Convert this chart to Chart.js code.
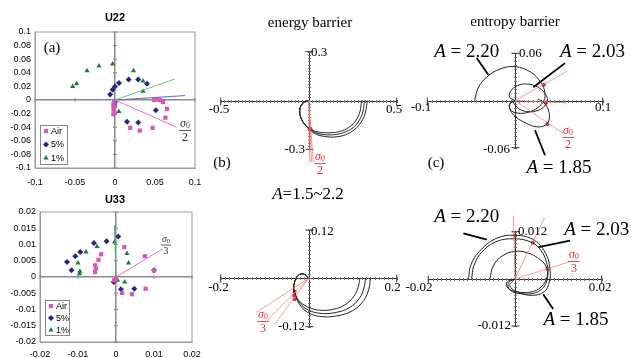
<!DOCTYPE html>
<html>
<head>
<meta charset="utf-8">
<script src="https://cdn.jsdelivr.net/npm/chart.js@4.4.0/dist/chart.umd.min.js"></script>
<style>
html, body { margin: 0; padding: 0; background: #fff; }
#fig { position: relative; width: 633px; height: 358px; overflow: hidden; background: #fff; }
#fig canvas { position: absolute; left: 0; top: 0; }
</style>
</head>
<body>
<div id="fig">
  <canvas id="u22" width="633" height="358"></canvas>
  <canvas id="u33" width="633" height="358"></canvas>
  <canvas id="enTop" width="633" height="358"></canvas>
  <canvas id="enBot" width="633" height="358"></canvas>
  <canvas id="exTop" width="633" height="358"></canvas>
  <canvas id="exBot" width="633" height="358"></canvas>
</div>
<script>
// ---- data ----
// (a) U22
var u22Air = [[-0.001,-0.002],[-0.002,-0.006],[-0.001,-0.010],[-0.002,-0.014],[0,-0.019],[-0.002,-0.021],
  [0.019,-0.041],[0.031,-0.045],[0.047,-0.041],[0.049,0],[0.053,0.001],[0.056,0],[0.060,-0.003],[0.065,-0.013],[0.063,-0.026]];
var u22Five = [[-0.006,0.008],[-0.003,0.015],[0,0.020],[0.005,0.025],[0.017,0.030],[0.029,0.030],[0.040,0.024],
  [0,-0.003],[-0.001,-0.010],[0.015,-0.032],[0.029,-0.033],[0.051,-0.015]];
var u22One = [[-0.053,0.020],[-0.048,0.024],[-0.035,0.043],[-0.020,0.050],[-0.003,0.053],[0.023,0.043],
  [0.035,0.028],[0.035,0.013],[0.005,-0.017],[0,-0.006]];
var u22AirLine = [[0,0],[0.077,-0.040]];
var u22FiveLine = [[0,0],[0.0875,0.0065]];
var u22OneLine = [[0,0],[0.075,0.031]];

// (a) U33
var u33Air = [[-0.0039,0.0070],[-0.0046,0.0053],[-0.0055,0.0036],[-0.0053,0.0026],[-0.0055,0.0015],[0.0022,0.0092],
  [0.0076,0.0064],[0.0100,0.0020],[0.0078,-0.0036],[0.0042,-0.0053],[0.0016,-0.0049],[0,-0.0005],[-0.0005,-0.0010]];
var u33Five = [[-0.0129,0.0046],[-0.0117,0.0021],[-0.0107,0.0064],[-0.0094,0.0077],[-0.0058,0.0105],[-0.0025,0.0110],
  [0.0006,0.0125],[0.0100,0.0021],[0.0013,-0.0038],[0.0048,-0.0036],[-0.0006,-0.0015]];
var u33One = [[-0.0096,0.0010],[-0.0095,0.0018],[-0.0100,0.0043],[-0.0079,0.0077],[-0.0050,0.0094],[-0.0004,0.0108],
  [0.0029,0.0072],[0.0033,0.0043],[0.0023,-0.0015],[0.0004,-0.0010],[0,-0.0003]];
var u33AirLine = [[0,0],[0.0123,0.0087]];
var u33OneLine = [[0,0],[-0.0004,0.0159]];

// (b) energy barrier, sigma0/2
var enTopLoop = [[0,0],[-0.025,-0.010],[-0.045,-0.035],[-0.051,-0.070],[-0.043,-0.110],[-0.022,-0.148]];
var enTopInner = [[0.005,-0.172],[0.040,-0.190],[0.090,-0.198],[0.140,-0.197],[0.190,-0.186],[0.235,-0.160],[0.270,-0.120],[0.292,-0.065],[0.300,0]];
var enTopMid = [[0.006,-0.176],[0.040,-0.198],[0.090,-0.210],[0.145,-0.210],[0.200,-0.197],[0.248,-0.170],[0.285,-0.126],[0.308,-0.068],[0.317,0]];
var enTopOuter = [[0.007,-0.180],[0.040,-0.206],[0.090,-0.221],[0.150,-0.224],[0.208,-0.211],[0.258,-0.180],[0.298,-0.133],[0.323,-0.070],[0.333,0]];
var enTopRays = [[0.006,-0.38],[0.016,-0.38],[0.026,-0.38]];
var enTopDots = [[0.008,-0.176]];

// (b) A = 1.5~2.2, sigma0/3
var enBotLoop = [[0,0],[-0.008,0.009],[-0.017,0.011],[-0.026,0.005],[-0.032,-0.009],[-0.034,-0.026],[-0.030,-0.042]];
var enBotInner = [[-0.020,-0.058],[0,-0.072],[0.025,-0.079],[0.055,-0.077],[0.082,-0.066],[0.103,-0.044],[0.113,-0.020],[0.116,0]];
var enBotMid = [[-0.020,-0.062],[0,-0.079],[0.028,-0.087],[0.060,-0.085],[0.092,-0.073],[0.115,-0.050],[0.126,-0.022],[0.129,0]];
var enBotOuter = [[-0.020,-0.066],[0,-0.086],[0.030,-0.095],[0.065,-0.093],[0.100,-0.080],[0.125,-0.055],[0.137,-0.025],[0.140,0]];
var enBotRays = [[-0.120,-0.085],[-0.095,-0.105],[-0.078,-0.115]];
var enBotDots = [[-0.032,-0.033],[-0.033,-0.043],[-0.032,-0.052]];

// (c) entropy barrier, sigma0/2
var exTop220 = [[0,0],[-0.006,-0.005],[-0.005,-0.012],[0.003,-0.016],[0.015,-0.015],[0.026,-0.009],[0.033,0],[0.034,0.010],
  [0.030,0.022],[0.018,0.036],[0,0.043],[-0.017,0.040],[-0.032,0.030],[-0.042,0.016],[-0.046,0]];
var exTop203 = [[0,0],[-0.006,0.004],[-0.005,0.012],[0.003,0.019],[0.014,0.021],[0.026,0.017],[0.034,0.009],[0.037,0],
  [0.032,-0.009],[0.021,-0.014],[0.009,-0.013],[0.001,-0.007],[-0.003,0]];
var exTop185 = [[0,0],[-0.006,-0.004],[-0.005,-0.013],[0.001,-0.021],[0.013,-0.029],[0.025,-0.0335],[0.035,-0.031],
  [0.039,-0.024],[0.038,-0.012],[0.033,-0.003],[0.026,0.002]];
var exTopRays = [[0.059,0.037],[0.059,-0.003],[0.055,-0.042]];
var exTopDots = [[0.033,0.020],[0.035,-0.003],[0.037,-0.030]];
var exTopLead220 = [[-0.0437,0.0539],[-0.0304,0.0326]];
var exTopLead203 = [[0.057,0.0475],[0.0209,0.0169]];
var exTopLead185 = [[0.0228,-0.0377],[0.0342,-0.0696]];

// (c) sigma0/3
var exBot220 = [[0,0],[-0.0012,-0.0017],[0.0005,-0.0033],[0.0040,-0.0042],[0.0068,-0.0032],[0.0079,-0.0008],[0.0081,0.0022],
  [0.0072,0.0062],[0.0045,0.0098],[0,0.0111],[-0.0045,0.0102],[-0.0082,0.0070],[-0.0102,0.0035],[-0.0107,0]];
var exBot203 = [[0,0],[-0.0015,-0.0010],[-0.0012,-0.0028],[0.0015,-0.0038],[0.0048,-0.0035],[0.0068,-0.0018],[0.0076,0.0012],
  [0.0072,0.0045],[0.0060,0.0072],[0.0040,0.0092],[0,0.0102],[-0.0045,0.0094],[-0.0078,0.0066],[-0.0095,0.0033],[-0.0100,0]];
var exBot185 = [[0,0],[-0.0018,-0.0008],[-0.0016,-0.0024],[0.0010,-0.0034],[0.0042,-0.0032],[0.0065,-0.0015],[0.0075,0.0012],
  [0.0070,0.0035],[0.0054,0.0052],[0.0030,0.0066],[0,0.0070],[-0.0030,0.0058],[-0.0050,0.0033],[-0.0058,0]];
var exBotRays = [[-0.0004,0.016],[0.0068,0.0155],[0.0125,0.0043]];
var exBotDots = [[0,0.0110],[0.0041,0.0092],[0.0075,0.0026]];
var exBotLead220 = [[-0.0119,0.0116],[-0.0065,0.0100]];
var exBotLead203 = [[0.0127,0.0097],[0.0054,0.0081]];
var exBotLead185 = [[0.0065,-0.0039],[0.0088,-0.0077]];

// ---- styles ----
var SANS = '"Liberation Sans", Arial, sans-serif';
var SERIF = '"Liberation Serif", "Times New Roman", serif';
var PINK = '#d658b8', NAVY = '#262684', GREEN = '#1f7a3d', RED = '#e8262a', RAY = 'rgba(240,120,120,0.75)';

function pts(a) { return a.map(function(p) { return {x: p[0], y: p[1]}; }); }
function marks(a, label, style, color, r) {
  return {label: label, data: pts(a), pointStyle: style, pointRadius: r, backgroundColor: color,
    borderColor: color, borderWidth: 0, showLine: false, clip: false};
}
function line(a, color, w, tension) {
  return {data: pts(a), showLine: true, borderColor: color, borderWidth: w || 1, pointRadius: 0,
    tension: tension || 0, fill: false, clip: false};
}
function rays(ends, color) {
  return ends.map(function(e) { return line([[0,0], e], color, 1); });
}
function fan(start, tails) {
  return tails.map(function(t) { return line(start.concat(t), '#222', 1, 0.4); });
}

// ---- drawing helpers for text ----
function fontOf(n, p) {
  return (p && p.it ? 'italic ' : '') + (n.bold ? 'bold ' : '') + n.size + 'px ' + (n.family || SERIF);
}
function drawNote(ctx, n) {
  ctx.save();
  ctx.fillStyle = n.color || '#000';
  ctx.strokeStyle = n.color || '#000';
  ctx.textBaseline = 'middle';
  ctx.textAlign = 'left';
  if (n.frac) {
    var s = n.size;
    ctx.font = 'italic ' + s + 'px ' + SERIF;
    var w1 = ctx.measureText('σ').width;
    ctx.font = (s * 0.65) + 'px ' + SERIF;
    var w2 = ctx.measureText('0').width;
    var w = w1 + w2;
    ctx.font = 'italic ' + s + 'px ' + SERIF;
    ctx.fillText('σ', n.x - w / 2, n.y - s * 0.55);
    ctx.font = (s * 0.65) + 'px ' + SERIF;
    ctx.fillText('0', n.x - w / 2 + w1, n.y - s * 0.4);
    ctx.lineWidth = 0.8;
    ctx.beginPath();
    ctx.moveTo(n.x - w / 2 - 1, n.y);
    ctx.lineTo(n.x + w / 2 + 1, n.y);
    ctx.stroke();
    ctx.font = s + 'px ' + SERIF;
    ctx.textAlign = 'center';
    ctx.fillText(n.den, n.x, n.y + s * 0.62);
  } else {
    var parts = n.parts || [{t: n.text}];
    var total = 0;
    parts.forEach(function(p) { ctx.font = fontOf(n, p); p.w = ctx.measureText(p.t).width; total += p.w; });
    var x = n.align === 'left' ? n.x : (n.align === 'right' ? n.x - total : n.x - total / 2);
    parts.forEach(function(p) { ctx.font = fontOf(n, p); ctx.fillText(p.t, x, n.y); x += p.w; });
  }
  ctx.restore();
}
function seg(ctx, x1, y1, x2, y2) {
  ctx.beginPath(); ctx.moveTo(x1, y1); ctx.lineTo(x2, y2); ctx.stroke();
}

// frame, zero lines, crossing axes, legend box and text notes
var decoPlugin = {
  id: 'deco',
  beforeDatasetsDraw: function(chart, args, o) {
    var ctx = chart.ctx, a = chart.chartArea, xs = chart.scales.x, ys = chart.scales.y;
    var x0 = xs.getPixelForValue(0), y0 = ys.getPixelForValue(0);
    ctx.save();
    if (o.frame) {
      ctx.strokeStyle = '#9a9a9a'; ctx.lineWidth = 1;
      ctx.strokeRect(a.left, a.top, a.right - a.left, a.bottom - a.top);
      ctx.strokeStyle = '#8a8a8a';
      xs.ticks.forEach(function(t) { var px = xs.getPixelForValue(t.value); seg(ctx, px, y0 - 2, px, y0 + 2); });
      ys.ticks.forEach(function(t) { var py = ys.getPixelForValue(t.value); seg(ctx, x0 - 2, py, x0 + 2, py); });
    }
    if (o.cross) {
      ctx.strokeStyle = '#333'; ctx.lineWidth = 1;
      var ay = Math.round(y0) + 0.5, ax = Math.round(x0) + 0.5;
      seg(ctx, a.left, ay, a.right, ay);
      seg(ctx, ax, a.top, ax, a.bottom);
      ctx.strokeStyle = '#777';
      var i, n, v;
      n = Math.round((xs.max - xs.min) / o.cross.xStep);
      for (i = 0; i <= n; i++) {
        v = Math.round(xs.getPixelForValue(xs.min + i * o.cross.xStep)) + 0.5;
        seg(ctx, v, ay - 1.5, v, ay + 1.5);
      }
      n = Math.round((ys.max - ys.min) / o.cross.yStep);
      for (i = 0; i <= n; i++) {
        v = Math.round(ys.getPixelForValue(ys.min + i * o.cross.yStep)) + 0.5;
        seg(ctx, ax - 1.5, v, ax + 1.5, v);
      }
      ctx.strokeStyle = '#333';
      seg(ctx, a.left, ay - 4, a.left, ay + 4);
      seg(ctx, a.right, ay - 4, a.right, ay + 4);
      seg(ctx, ax - 4, a.top, ax + 4, a.top);
      seg(ctx, ax - 4, a.bottom, ax + 4, a.bottom);
    }
    ctx.restore();
  },
  afterDraw: function(chart, args, o) {
    var ctx = chart.ctx;
    if (o.legend) {
      var L = o.legend;
      ctx.save();
      ctx.fillStyle = '#fff';
      ctx.fillRect(L.x, L.y, L.w, L.h);
      ctx.strokeStyle = '#888'; ctx.lineWidth = 1;
      ctx.strokeRect(L.x + 0.5, L.y + 0.5, L.w, L.h);
      var items = chart.data.datasets.filter(function(d) { return d.label; });
      items.forEach(function(d, i) {
        var yy = L.y + L.first + i * L.gap;
        ctx.fillStyle = d.backgroundColor;
        Chart.helpers.drawPoint(ctx, {pointStyle: d.pointStyle, radius: d.pointRadius, rotation: 0, borderWidth: 0},
          L.x + 6, yy);
        ctx.fillStyle = '#000';
        ctx.font = '9px ' + SANS;
        ctx.textBaseline = 'middle';
        ctx.fillText(d.label, L.x + 11, yy + 0.5);
      });
      ctx.restore();
    }
    (o.notes || []).forEach(function(n) { drawNote(ctx, n); });
  }
};
Chart.register(decoPlugin);

function fmt(v) { return String(Math.round(v * 10000) / 10000); }
function zeroGrid(c) { return c.tick && Math.abs(c.tick.value) < 1e-12 ? '#8a8a8a' : 'rgba(0,0,0,0)'; }

// box-style scatter panel (a)
function boxPanel(id, box, lim, xStep, yStep, datasets, deco) {
  var yw = 34, xh = 24;
  return new Chart(document.getElementById(id), {
    type: 'scatter',
    data: {datasets: datasets},
    options: {
      responsive: false, animation: false, devicePixelRatio: 1,
      layout: {padding: {left: box.l - yw, top: box.t, right: 633 - box.r, bottom: 358 - box.b - xh}},
      plugins: {legend: {display: false}, tooltip: {enabled: false}, deco: deco},
      scales: {
        x: {type: 'linear', min: -lim, max: lim,
          ticks: {stepSize: xStep, callback: fmt, autoSkip: false, maxRotation: 0, padding: box.xpad,
            color: '#000', font: {family: SANS, size: 9}},
          grid: {color: zeroGrid, lineWidth: 1.5, drawTicks: false},
          border: {display: true, color: '#9a9a9a'},
          afterFit: function(s) { s.height = xh; }},
        y: {type: 'linear', min: -lim, max: lim,
          ticks: {stepSize: yStep, callback: fmt, autoSkip: false, padding: 4,
            color: '#000', font: {family: SANS, size: 9}},
          grid: {color: zeroGrid, lineWidth: 1.5, drawTicks: false},
          border: {display: true, color: '#9a9a9a'},
          afterFit: function(s) { s.width = yw; }}
      }
    }
  });
}

// crossing-axes panel (b), (c)
function crossPanel(id, box, xLim, yLim, xStep, yStep, datasets, notes) {
  return new Chart(document.getElementById(id), {
    type: 'scatter',
    data: {datasets: datasets},
    options: {
      responsive: false, animation: false, devicePixelRatio: 1,
      layout: {padding: {left: box.l, top: box.t, right: 633 - box.r, bottom: 358 - box.b}},
      plugins: {legend: {display: false}, tooltip: {enabled: false},
        deco: {cross: {xStep: xStep, yStep: yStep}, notes: notes}},
      scales: {
        x: {type: 'linear', min: -xLim, max: xLim, display: false},
        y: {type: 'linear', min: -yLim, max: yLim, display: false}
      }
    }
  });
}

// ---- (a) U22 ----
boxPanel('u22', {l: 35, t: 32, r: 195, b: 168, xpad: 9}, 0.1, 0.05, 0.02, [
  line(u22OneLine, '#72c472', 1),
  line(u22FiveLine, '#6262cc', 1),
  line(u22AirLine, '#de70cf', 1),
  marks(u22Air, 'Air', 'rect', PINK, 3),
  marks(u22Five, '5%', 'rectRot', NAVY, 3),
  marks(u22One, '1%', 'triangle', GREEN, 3)
], {
  frame: true,
  legend: {x: 40, y: 125, w: 27, h: 39, first: 6, gap: 13.5},
  notes: [
    {text: 'U22', x: 115, y: 18, size: 11, bold: true, family: SANS},
    {text: '(a)', x: 52, y: 48, size: 15},
    {frac: true, x: 185, y: 130.5, size: 12, den: '2', color: '#333'}
  ]
});

// ---- (a) U33 ----
boxPanel('u33', {l: 40, t: 212, r: 192, b: 342, xpad: 7}, 0.02, 0.01, 0.005, [
  line(u33OneLine, '#52b452', 1),
  line(u33AirLine, '#de70cf', 1),
  marks(u33Air, 'Air', 'rect', PINK, 3),
  marks(u33Five, '5%', 'rectRot', NAVY, 3),
  marks(u33One, '1%', 'triangle', GREEN, 3)
], {
  frame: true,
  legend: {x: 45, y: 300, w: 24, h: 35, first: 6, gap: 12},
  notes: [
    {text: 'U33', x: 115, y: 200, size: 11, bold: true, family: SANS},
    {frac: true, x: 166, y: 245, size: 10, den: '3', color: '#333'}
  ]
});

// ---- (b) energy barrier ----
crossPanel('enTop', {l: 220.7, t: 51.7, r: 396.7, b: 149.3}, 0.5, 0.3, 0.02, 0.02,
  rays(enTopRays, RAY).concat(fan(enTopLoop, [enTopInner, enTopMid, enTopOuter]), [
    marks(enTopDots, '', 'circle', RED, 2.5)
  ]), [
    {text: 'energy barrier', x: 310, y: 23, size: 15},
    {text: '0.3', x: 311, y: 52.7, size: 13, align: 'left'},
    {text: '-0.3', x: 305, y: 149.5, size: 13, align: 'right'},
    {text: '-0.5', x: 219, y: 109.5, size: 13},
    {text: '0.5', x: 394, y: 109.5, size: 13},
    {text: '(b)', x: 222, y: 163, size: 15},
    {frac: true, x: 320, y: 163.5, size: 12, den: '2', color: RED}
  ]);

crossPanel('enBot', {l: 220.7, t: 230, r: 396.7, b: 326.7}, 0.2, 0.12, 0.01, 0.01,
  rays(enBotRays, RAY).concat(fan(enBotLoop, [enBotInner, enBotMid, enBotOuter]), [
    marks(enBotDots, '', 'circle', RED, 2)
  ]), [
    {parts: [{t: 'A', it: true}, {t: '=1.5~2.2'}], x: 308, y: 195, size: 17},
    {text: '0.12', x: 311, y: 231.7, size: 13, align: 'left'},
    {text: '-0.12', x: 305, y: 326.7, size: 13, align: 'right'},
    {text: '-0.2', x: 218.5, y: 287.5, size: 13},
    {text: '0.2', x: 392.5, y: 287.5, size: 13},
    {frac: true, x: 263, y: 321.5, size: 12, den: '3', color: RED}
  ]);

// ---- (c) entropy barrier ----
crossPanel('exTop', {l: 427.3, t: 53.3, r: 602.7, b: 147.7}, 0.1, 0.06, 0.005, 0.005,
  rays(exTopRays, RAY).concat([
    line(exTop220, '#222', 1, 0.4),
    line(exTop203, '#222', 1, 0.4),
    line(exTop185, '#222', 1, 0.4),
    line(exTopLead220, '#000', 1.8),
    line(exTopLead203, '#000', 1.8),
    line(exTopLead185, '#000', 1.8),
    marks(exTopDots, '', 'circle', RED, 2)
  ]), [
    {text: 'entropy barrier', x: 515, y: 21.7, size: 15},
    {parts: [{t: 'A', it: true}, {t: ' = 2.20'}], x: 466.7, y: 51.7, size: 19},
    {parts: [{t: 'A', it: true}, {t: ' = 2.03'}], x: 592.5, y: 51.7, size: 19},
    {parts: [{t: 'A', it: true}, {t: ' = 1.85'}], x: 559, y: 168.3, size: 19},
    {text: '0.06', x: 519, y: 53.5, size: 13, align: 'left'},
    {text: '-0.06', x: 510, y: 150, size: 13, align: 'right'},
    {text: '-0.1', x: 421, y: 108, size: 13},
    {text: '0.1', x: 603, y: 108, size: 13},
    {text: '(c)', x: 436, y: 163.3, size: 15},
    {frac: true, x: 568, y: 137.5, size: 12, den: '2', color: RED}
  ]);

crossPanel('exBot', {l: 428.3, t: 231.7, r: 601.7, b: 326}, 0.02, 0.012, 0.001, 0.001,
  rays(exBotRays, RAY).concat([
    line(exBot220, '#222', 1, 0.4),
    line(exBot203, '#222', 1, 0.4),
    line(exBot185, '#222', 1, 0.4),
    line(exBotLead220, '#000', 1.8),
    line(exBotLead203, '#000', 1.8),
    line(exBotLead185, '#000', 1.8),
    marks(exBotDots, '', 'circle', RED, 2)
  ]), [
    {parts: [{t: 'A', it: true}, {t: ' = 2.20'}], x: 466.7, y: 216.7, size: 19},
    {parts: [{t: 'A', it: true}, {t: ' = 2.03'}], x: 596.7, y: 230, size: 19},
    {parts: [{t: 'A', it: true}, {t: ' = 1.85'}], x: 576, y: 320, size: 19},
    {text: '0.012', x: 518, y: 231.7, size: 13, align: 'left'},
    {text: '-0.012', x: 511, y: 325.5, size: 13, align: 'right'},
    {text: '-0.02', x: 419, y: 287.5, size: 13},
    {text: '0.02', x: 600, y: 287.5, size: 13},
    {frac: true, x: 574, y: 261.5, size: 12, den: '3', color: RED}
  ]);
</script>
</body>
</html>
